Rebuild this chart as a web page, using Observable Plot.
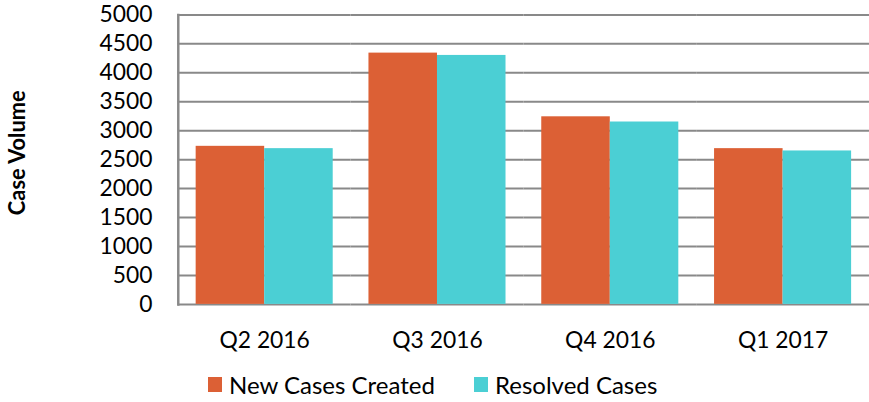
<!DOCTYPE html>
<html>
<head>
<meta charset="utf-8">
<script src="https://cdn.jsdelivr.net/npm/d3@7"></script>
<script src="https://cdn.jsdelivr.net/npm/@observablehq/plot@0.6"></script>
<style>
  html, body { margin: 0; padding: 0; background: #fff; overflow: hidden; width: 869px; height: 402px; }
  #chart svg { display: block; }
  #legend { position: relative; height: 37px; font-family: Lato, sans-serif; font-size: 24px; color: #000; }
  .item { position: absolute; top: 7px; height: 30px; display: flex; align-items: center; }
  .sw { width: 14px; height: 15px; margin-right: 7px; }
</style>
</head>
<body>
<div id="chart"></div>
<div id="legend"></div>
<script>
const quarters = ["Q2 2016", "Q3 2016", "Q4 2016", "Q1 2017"];
const seriesNames = ["New Cases Created", "Resolved Cases"];
const newCases = [2730, 4340, 3240, 2690];
const resolvedCases = [2690, 4300, 3150, 2650];
const yTicks = [0, 500, 1000, 1500, 2000, 2500, 3000, 3500, 4000, 4500, 5000];
const colors = ["#DC6035", "#4BCFD4"];

const data = [];
quarters.forEach((q, i) => {
  data.push({quarter: q, series: seriesNames[0], value: newCases[i]});
  data.push({quarter: q, series: seriesNames[1], value: resolvedCases[i]});
});

const plot = Plot.plot({
  width: 875,
  height: 365,
  marginTop: 14.5,
  marginBottom: 59,
  marginLeft: 178,
  marginRight: 0,
  style: {fontFamily: "Lato, sans-serif", fontSize: "23px", color: "#000", background: "#fff"},
  fx: {domain: quarters, paddingInner: 0, paddingOuter: 0, axis: "bottom", label: null, tickSize: 0, tickPadding: 28},
  x: {domain: seriesNames, paddingInner: 0, paddingOuter: 0.25, axis: null},
  y: {domain: [0, 5000], ticks: yTicks, tickFormat: d => String(d), tickSize: 0, tickPadding: 26,
      label: "Case Volume", labelAnchor: "center", labelArrow: false, labelOffset: 170},
  color: {domain: seriesNames, range: colors},
  marks: [
    Plot.gridY(yTicks, {stroke: "#898989", strokeOpacity: 1, strokeWidth: 2}),
    Plot.barY(data, {fx: "quarter", x: "series", y: "value", fill: "series"}),
    Plot.frame({anchor: "left", facetAnchor: "left", stroke: "#898989", strokeWidth: 2.5})
  ]
});
document.getElementById("chart").appendChild(plot);

// style y-axis label
d3.select(plot).selectAll('g[aria-label="y-axis label"] text')
  .attr("font-weight", "bold").attr("font-size", "22px").attr("dx", 7)
  .text("Case Volume");

const legend = document.getElementById("legend");
const lefts = [208, 474];
seriesNames.forEach((s, i) => {
  const it = document.createElement("div");
  it.className = "item";
  it.style.left = lefts[i] + "px";
  const sw = document.createElement("div");
  sw.className = "sw";
  sw.style.background = colors[i];
  const t = document.createElement("span");
  t.textContent = s;
  it.appendChild(sw); it.appendChild(t);
  legend.appendChild(it);
});
</script>
</body>
</html>
